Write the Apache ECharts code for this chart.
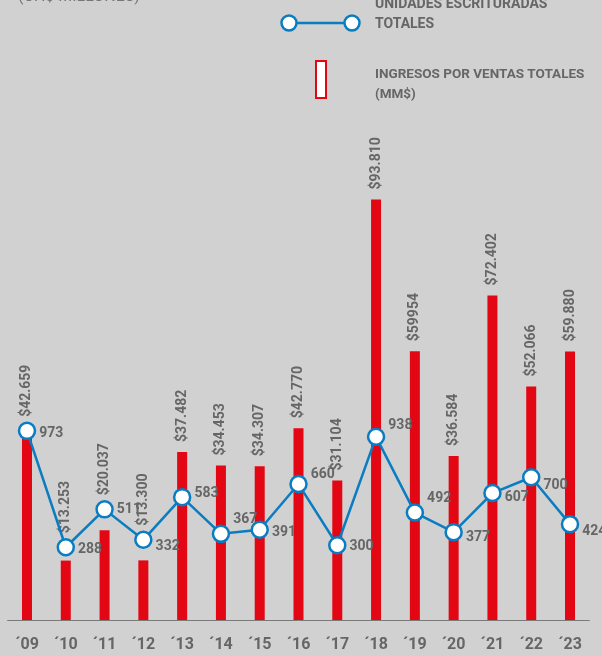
<!DOCTYPE html>
<html>
<head>
<meta charset="utf-8">
<script src="https://cdn.jsdelivr.net/npm/echarts@6/dist/echarts.min.js"></script>
<style>
  html, body { margin: 0; padding: 0; background: #d1d1d1; }
  #chart { width: 602px; height: 656px; }
</style>
</head>
<body>
<div id="chart"></div>
<script>
const years = ['´09', '´10', '´11', '´12', '´13', '´14', '´15', '´16', '´17', '´18', '´19', '´20', '´21', '´22', '´23']
const ingresos = [42659, 13253, 20037, 13300, 37482, 34453, 34307, 42770, 31104, 93810, 59954, 36584, 72402, 52066, 59880]
const ingresosLabels = ['$42.659', '$13.253', '$20.037', '$13.300', '$37.482', '$34.453', '$34.307', '$42.770', '$31.104', '$93.810', '$59954', '$36.584', '$72.402', '$52.066', '$59.880']
const unidades = [973, 288, 511, 332, 583, 367, 391, 660, 300, 938, 492, 377, 607, 700, 424]

// nudge of the unit labels so they dodge the line (px, vertical)
const unidadesLabelDy = [3, 2, 0, 7, -4, -14, 3, -10, 1, -11, -14, 5, 4, 8, 7]

const gray = '#666'
const red = '#e30613'
const blue = '#0a7cc1'
const font = 'Roboto, sans-serif'
const symbolSize = 16

const chart = echarts.init(document.getElementById('chart'))

chart.setOption({
  backgroundColor: '#d1d1d1',
  animation: false,
  grid: {
    left: 7.6,
    right: 12.6,
    top: 100,
    bottom: 36
  },
  xAxis: {
    type: 'category',
    data: years,
    axisLine: { lineStyle: { color: '#7a7a7a', width: 1 } },
    axisTick: { show: false },
    axisLabel: {
      color: gray,
      fontFamily: font,
      fontWeight: 'bold',
      fontSize: 16,
      margin: 17
    }
  },
  yAxis: [
    { type: 'value', min: 0, max: 116000, show: false, splitLine: { show: false } },
    { type: 'value', min: -140, max: 2920, show: false, splitLine: { show: false } }
  ],
  graphic: [
    {
      type: 'text', left: 18, top: -11,
      style: { text: '(CH$ MILLONES)', fill: '#777', font: '16px ' + font }
    },
    {
      type: 'line', shape: { x1: 289, y1: 23, x2: 352, y2: 23 },
      style: { stroke: blue, lineWidth: 2.5 }
    },
    {
      type: 'circle', shape: { cx: 289, cy: 23, r: 7.5 },
      style: { fill: '#fff', stroke: blue, lineWidth: 2.5 }
    },
    {
      type: 'circle', shape: { cx: 352, cy: 23, r: 7.5 },
      style: { fill: '#fff', stroke: blue, lineWidth: 2.5 }
    },
    {
      type: 'text', left: 375, top: -6,
      style: { text: 'UNIDADES ESCRITURADAS\nTOTALES', fill: gray, font: 'bold 14px ' + font, lineHeight: 20 }
    },
    {
      type: 'rect', shape: { x: 316, y: 61, width: 10, height: 37 },
      style: { fill: '#fff', stroke: red, lineWidth: 2 }
    },
    {
      type: 'text', left: 375, top: 65,
      style: { text: 'INGRESOS POR VENTAS TOTALES\n(MM$)', fill: gray, font: 'bold 13.5px ' + font, lineHeight: 20 }
    }
  ],
  series: [
    {
      name: 'INGRESOS POR VENTAS TOTALES (MM$)',
      type: 'bar',
      yAxisIndex: 0,
      barWidth: 10,
      itemStyle: { color: red },
      label: {
        show: true,
        position: 'top',
        rotate: 90,
        align: 'left',
        verticalAlign: 'middle',
        distance: 10,
        color: gray,
        fontFamily: font,
        fontWeight: 'bold',
        fontSize: 14,
        formatter: p => ingresosLabels[p.dataIndex]
      },
      data: ingresos
    },
    {
      name: 'UNIDADES ESCRITURADAS TOTALES',
      type: 'line',
      yAxisIndex: 1,
      z: 5,
      symbol: 'circle',
      symbolSize: symbolSize,
      lineStyle: { color: blue, width: 2.5 },
      itemStyle: { color: '#fff', borderColor: blue, borderWidth: 2.5 },
      label: {
        show: true,
        position: 'right',
        distance: 3,
        color: gray,
        fontFamily: font,
        fontWeight: 'bold',
        fontSize: 14
      },
      data: unidades.map((v, i) => ({ value: v, label: { offset: [0, unidadesLabelDy[i]] } }))
    }
  ]
})

// when a marker sits above its bar, push the bar label up over the marker
const barData = ingresos.map((v, i) => {
  const barTop = chart.convertToPixel({ yAxisIndex: 0 }, v)
  const markTop = chart.convertToPixel({ yAxisIndex: 1 }, unidades[i]) - symbolSize / 2 - 1
  if (markTop < barTop + 4) {
    return { value: v, label: { distance: barTop - markTop + 5 } }
  }
  return v
})
chart.setOption({ series: [{ data: barData }] })
</script>
</body>
</html>
